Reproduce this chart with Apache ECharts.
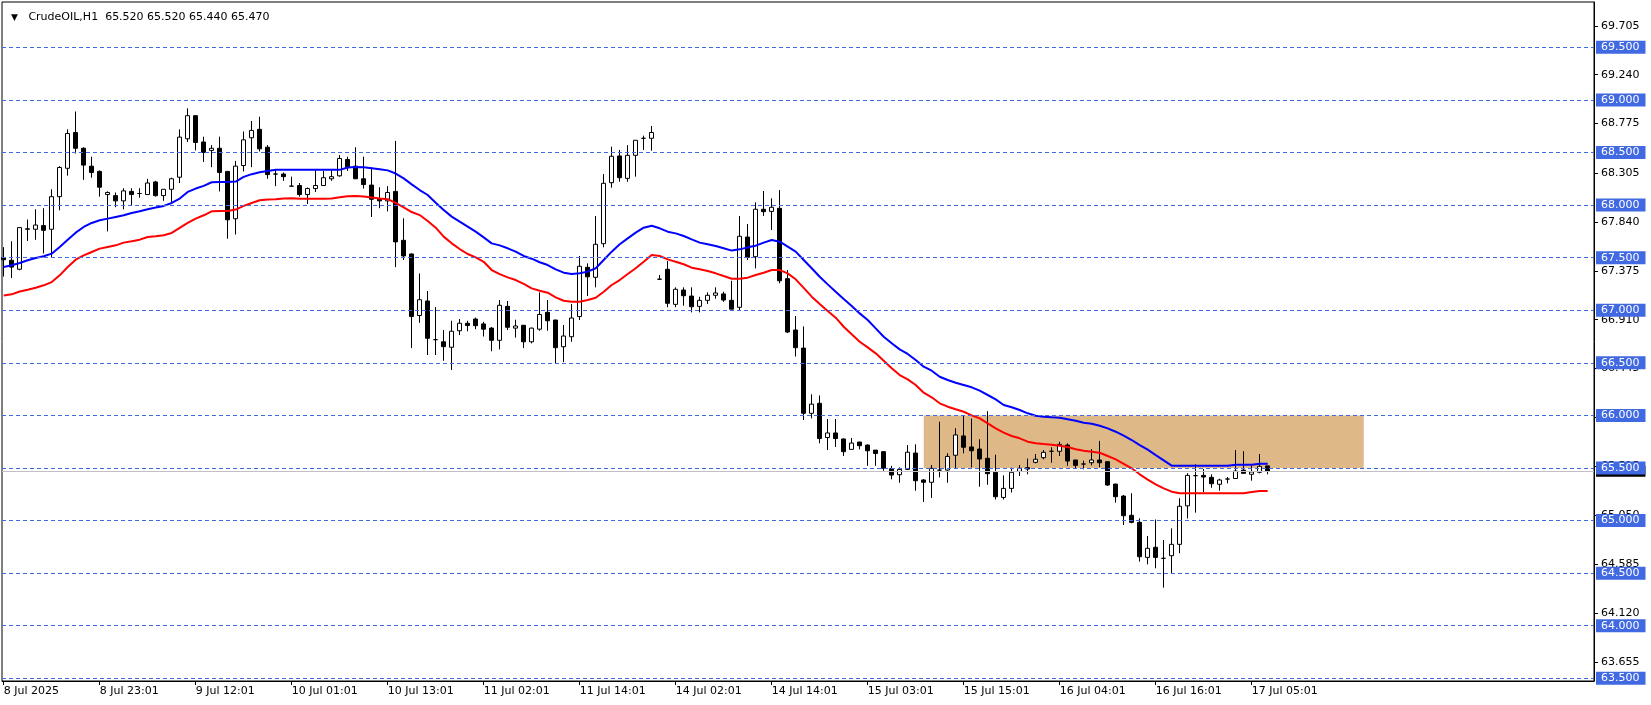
<!DOCTYPE html>
<html><head><meta charset="utf-8">
<script src="https://cdn.jsdelivr.net/npm/echarts@6/dist/echarts.min.js"></script>
<style>html,body{margin:0;padding:0;background:#fff}#c{width:1651px;height:705px}</style>
</head><body><div id="c"></div>
<script>
// ---- data (hourly bars, index 0 = first visible bar) ----
const openP = [67.50,67.475,67.39,67.77,67.77,67.805,67.77,68.08,68.35,68.69,
68.54,68.37,68.32,68.10,68.09,68.04,68.13,68.11,68.10,68.22,
68.09,68.15,68.265,68.63,68.85,68.60,68.52,68.54,68.32,67.87,
68.376,68.64,68.72,68.55,68.295,68.295,68.18,68.186,68.10,68.157,
68.186,68.25,68.278,68.433,68.37,68.25,68.19,68.055,68.04,68.13,
67.665,67.535,66.95,67.088,66.72,66.70,66.648,66.805,66.876,66.916,
66.87,66.83,66.714,67.037,66.83,66.857,66.70,66.82,66.98,66.907,
66.653,66.748,66.94,67.408,67.313,67.633,68.213,68.467,68.254,68.473,
68.635,68.635,67.295,67.389,67.056,67.192,67.135,67.037,67.094,67.142,
67.155,67.094,67.028,67.696,67.509,67.96,67.94,67.969,67.30,66.812,
66.64,66.02,66.115,65.79,65.833,65.776,65.677,65.747,65.718,65.67,
65.655,65.493,65.436,65.487,65.642,65.386,65.364,65.48,65.48,65.621,
65.805,65.70,65.68,65.592,65.459,65.22,65.306,65.468,65.503,65.554,
65.598,65.659,65.659,65.718,65.576,65.538,65.55,65.576,65.56,65.347,
65.233,65.05,64.983,64.65,64.746,64.641,64.666,64.774,65.14,65.427,
65.43,65.411,65.345,65.395,65.40,65.48,65.44,65.459,65.52];
const highP = [67.60,67.656,67.79,67.862,67.96,67.97,68.15,68.37,68.72,68.89,
68.55,68.46,68.33,68.13,68.12,68.16,68.16,68.16,68.25,68.23,
68.15,68.26,68.72,68.92,68.85,68.65,68.57,68.65,68.32,68.42,
68.70,68.80,68.84,68.57,68.34,68.31,68.27,68.21,68.167,68.33,
68.325,68.33,68.475,68.46,68.55,68.46,68.36,68.17,68.18,68.61,
67.874,67.54,67.35,67.183,67.03,66.812,66.90,66.916,66.90,66.93,
66.89,66.84,67.097,67.088,66.91,66.86,66.835,67.17,67.097,66.91,
66.86,67.06,67.516,67.446,67.896,68.295,68.555,68.524,68.57,68.616,
68.66,68.752,67.335,67.468,67.218,67.218,67.218,67.128,67.17,67.218,
67.176,67.28,67.896,67.82,68.026,68.134,68.064,68.143,67.382,66.945,
66.846,66.20,66.19,65.966,65.966,65.78,65.785,65.747,65.724,65.67,
65.66,65.52,65.506,65.718,65.725,65.395,65.528,65.94,65.64,65.878,
66.0,65.97,65.773,66.04,65.626,65.43,65.503,65.528,65.59,65.633,
65.67,65.697,65.75,65.734,65.576,65.57,65.68,65.757,65.56,65.35,
65.243,65.26,65.021,64.853,65.01,64.815,64.926,65.212,65.45,65.535,
65.49,65.44,65.398,65.414,65.67,65.66,65.52,65.633,65.52];
const lowP = [67.32,67.306,67.38,67.659,67.67,67.54,67.50,67.95,68.28,68.49,
68.24,68.26,68.08,67.75,67.98,67.96,68.0,68.07,68.10,68.08,
68.04,68.03,68.21,68.60,68.52,68.41,68.36,68.13,67.68,67.72,
68.32,68.36,68.51,68.25,68.18,68.23,68.18,68.08,68.01,68.125,
68.186,68.23,68.27,68.325,68.25,68.157,67.887,67.97,67.94,67.41,
67.478,66.64,66.88,66.574,66.574,66.52,66.432,66.764,66.80,66.82,
66.75,66.61,66.627,66.812,66.74,66.64,66.685,66.805,66.805,66.49,
66.507,66.70,66.907,67.135,67.218,67.598,68.165,68.222,68.222,68.27,
68.524,68.517,67.295,67.028,67.028,67.043,66.98,66.98,67.06,67.11,
67.08,67.01,66.995,67.478,67.398,67.896,67.763,67.256,66.783,66.56,
65.956,65.972,65.735,65.671,65.70,65.614,65.677,65.677,65.52,65.52,
65.474,65.392,65.36,65.48,65.284,65.177,65.215,65.41,65.36,65.497,
65.64,65.506,65.322,65.34,65.20,65.20,65.267,65.424,65.44,65.544,
65.583,65.55,65.614,65.52,65.493,65.487,65.525,65.506,65.33,65.17,
64.958,64.974,64.61,64.584,64.546,64.362,64.498,64.69,65.02,65.075,
65.27,65.312,65.284,65.354,65.40,65.449,65.379,65.449,65.44];
const closeP = [67.48,67.41,67.786,67.775,67.81,67.76,68.08,68.357,68.68,68.54,
68.38,68.31,68.17,68.12,68.04,68.135,68.10,68.11,68.21,68.09,
68.15,68.25,68.646,68.85,68.595,68.50,68.54,68.31,67.86,68.37,
68.62,68.71,68.535,68.29,68.295,68.27,68.18,68.10,68.157,68.186,
68.26,68.27,68.443,68.363,68.25,68.195,68.055,68.04,68.12,67.65,
67.516,66.94,67.10,66.733,66.72,66.654,66.80,66.876,66.855,66.853,
66.82,66.714,67.047,66.838,66.85,66.70,66.83,66.96,66.90,66.644,
66.755,66.926,67.418,67.318,67.627,68.207,68.464,68.26,68.473,68.616,
68.635,68.69,67.295,67.066,67.199,67.138,67.033,67.094,67.142,67.164,
67.097,67.01,67.703,67.503,67.96,67.937,67.979,67.28,66.793,66.644,
66.02,66.107,65.78,65.833,65.78,65.655,65.737,65.712,65.664,65.638,
65.497,65.433,65.487,65.65,65.379,65.364,65.497,65.48,65.61,65.814,
65.697,65.664,65.586,65.446,65.227,65.306,65.459,65.497,65.49,65.583,
65.649,65.659,65.725,65.566,65.525,65.538,65.576,65.55,65.338,65.227,
65.046,64.983,64.656,64.736,64.65,64.641,64.774,65.136,65.43,65.427,
65.414,65.35,65.386,65.395,65.471,65.449,65.462,65.516,65.47];
const blueMA = [67.411,67.427,67.449,67.475,67.497,67.513,67.538,67.602,67.671,67.738,
67.792,67.83,67.856,67.871,67.887,67.903,67.925,67.941,67.96,67.976,
67.992,68.02,68.062,68.125,68.157,68.183,68.217,68.22,68.22,68.224,
68.268,68.294,68.313,68.325,68.335,68.335,68.335,68.335,68.335,68.335,
68.335,68.335,68.335,68.357,68.363,68.36,68.35,68.34,68.33,68.30,
68.254,68.197,68.143,68.096,68.023,67.953,67.89,67.842,67.795,67.747,
67.693,67.636,67.617,67.589,67.557,67.516,67.49,67.456,67.43,67.389,
67.357,67.345,67.351,67.367,67.399,67.478,67.557,67.627,67.683,67.738,
67.785,67.804,67.779,67.747,67.731,67.706,67.674,67.643,67.627,67.611,
67.589,67.567,67.579,67.598,67.614,67.643,67.668,67.652,67.605,67.557,
67.478,67.399,67.319,67.246,67.176,67.107,67.04,66.97,66.907,66.828,
66.748,66.686,66.628,66.584,66.527,66.463,66.425,66.368,66.337,66.311,
66.289,66.267,66.235,66.194,66.153,66.099,66.077,66.051,66.02,65.997,
65.988,65.982,65.978,65.963,65.95,65.93,65.921,65.902,65.877,65.845,
65.807,65.766,65.718,65.674,65.623,65.573,65.522,65.522,65.522,65.522,
65.522,65.522,65.522,65.522,65.531,65.531,65.531,65.541,65.541];
const redMA = [67.141,67.151,67.178,67.195,67.214,67.237,67.268,67.332,67.411,67.481,
67.522,67.554,67.586,67.602,67.617,67.643,67.656,67.671,67.697,67.703,
67.713,67.735,67.783,67.83,67.871,67.903,67.941,67.944,67.944,67.957,
67.992,68.02,68.046,68.052,68.056,68.062,68.065,68.059,68.059,68.059,
68.059,68.062,68.075,68.084,68.087,68.081,68.071,68.062,68.056,68.02,
67.979,67.934,67.905,67.848,67.785,67.70,67.636,67.582,67.535,67.503,
67.461,67.382,67.344,67.313,67.287,67.25,67.208,67.186,67.167,67.123,
67.09,67.081,67.081,67.097,67.119,67.176,67.24,67.287,67.344,67.399,
67.461,67.525,67.516,67.484,67.461,67.437,67.405,67.389,67.373,67.351,
67.325,67.30,67.30,67.31,67.335,67.357,67.382,67.382,67.351,67.294,
67.213,67.129,67.059,66.993,66.929,66.843,66.771,66.70,66.647,66.59,
66.52,66.448,66.384,66.343,66.289,66.216,66.172,66.115,66.083,66.058,
66.035,66.0,65.972,65.925,65.877,65.836,65.804,65.782,65.75,65.735,
65.728,65.722,65.712,65.70,65.678,65.664,65.655,65.645,65.614,65.582,
65.54,65.497,65.44,65.39,65.345,65.306,65.275,65.259,65.259,65.259,
65.259,65.259,65.259,65.259,65.259,65.259,65.272,65.281,65.281];
const timeLabelIndex = [0,12,24,36,48,60,72,84,96,108,120,132,144,156];
const timeLabels = ['8 Jul 2025','8 Jul 23:01','9 Jul 12:01','10 Jul 01:01','10 Jul 13:01','11 Jul 02:01','11 Jul 14:01','14 Jul 02:01','14 Jul 14:01','15 Jul 03:01','15 Jul 15:01','16 Jul 04:01','16 Jul 16:01','17 Jul 05:01'];
const priceTicks = [63.655,64.120,64.585,65.050,65.515,65.980,66.445,66.910,67.375,67.840,68.305,68.775,69.240,69.705];
const levelLines = [69.5,69.0,68.5,68.0,67.5,67.0,66.5,66.0,65.5,65.0,64.5,64.0,63.5];
const bidPrice = 65.470;
const zoneStart = 115, zoneEnd = 170, zoneTop = 66.0, zoneBottom = 65.5;
const symbolName = 'CrudeOIL,H1';
const lastBar = [65.520, 65.520, 65.440, 65.470];

// ---- chart ----
const FONT = 'DejaVu Sans';
const candles = openP.map((o, i) => [i, o, closeP[i], lowP[i], highP[i]]);
const chart = echarts.init(document.getElementById('c'), null, {renderer: 'canvas'});
const option = {
  animation: false,
  backgroundColor: '#ffffff',
  textStyle: {fontFamily: FONT},
  title: {
    text: '{t|▼}   ' + symbolName + '  ' + lastBar.map(v => v.toFixed(3)).join(' '),
    left: 6, top: 6,
    textStyle: {fontFamily: FONT, fontSize: 11, fontWeight: 'normal', color: '#000', lineHeight: 13,
      rich: {t: {fontSize: 9, color: '#000', fontFamily: FONT}}}
  },
  grid: {left: 2, top: 2, width: 1592, height: 679, show: true, borderColor: '#000', borderWidth: 1, backgroundColor: 'transparent'},
  xAxis: {
    type: 'value', min: -0.2125, max: 198.7875,
    axisLine: {show: true, onZero: false, lineStyle: {color: '#000', width: 1}},
    splitLine: {show: false},
    axisTick: {show: true, customValues: timeLabelIndex, length: 4, lineStyle: {color: '#000'}},
    axisLabel: {customValues: timeLabelIndex, align: 'left', margin: 5, fontFamily: FONT, fontSize: 11, color: '#000',
      formatter: v => timeLabels[timeLabelIndex.indexOf(Math.round(v))] || ''}
  },
  yAxis: {
    type: 'value', position: 'right', min: 63.4745, max: 69.931, scale: true,
    axisLine: {show: true, onZero: false, lineStyle: {color: '#000', width: 1}},
    splitLine: {show: false},
    axisTick: {show: true, customValues: priceTicks, length: 4, lineStyle: {color: '#000'}},
    axisLabel: {customValues: priceTicks, margin: 7, fontFamily: FONT, fontSize: 11, color: '#000',
      formatter: v => v.toFixed(3)}
  },
  series: [
    {
      type: 'line', data: [], z: 1, silent: true,
      markLine: {
        silent: true, symbol: 'none', animation: false,
        lineStyle: {color: '#c0c0c0', type: 'solid', width: 1},
        label: {show: true, position: 'end', distance: 2, formatter: p => p.value.toFixed(3),
          backgroundColor: '#000', color: '#fff', fontFamily: FONT, fontSize: 11, lineHeight: 11, padding: [0, 6, 0, 5]},
        data: [{yAxis: bidPrice}]
      }
    },
    {
      type: 'line', data: [], z: 1, silent: true,
      markLine: {
        silent: true, symbol: 'none', animation: false,
        lineStyle: {color: '#4169E1', type: [4, 3], width: 1},
        label: {show: true, position: 'end', distance: 2, formatter: p => p.value.toFixed(3),
          backgroundColor: '#4169E1', color: '#fff', fontFamily: FONT, fontSize: 11, lineHeight: 13, padding: [0, 6, 0, 5]},
        data: levelLines.map(v => ({yAxis: v}))
      }
    },
    {
      type: 'candlestick', data: candles, encode: {x: 0, y: [1, 2, 3, 4]},
      barWidth: 4, z: 3, silent: true,
      itemStyle: {color: '#ffffff', color0: '#000000', borderColor: '#000000', borderColor0: '#000000', borderColorDoji: '#000000', borderWidth: 1},
      markArea: {
        silent: true, itemStyle: {color: '#DEB887', opacity: 1},
        data: [[{xAxis: zoneStart, yAxis: zoneTop}, {xAxis: zoneEnd, yAxis: zoneBottom}]]
      }
    },
    {
      type: 'line', data: blueMA.map((v, i) => [i, v]), showSymbol: false, symbol: 'none', z: 4, silent: true,
      lineStyle: {color: '#0000ff', width: 2}
    },
    {
      type: 'line', data: redMA.map((v, i) => [i, v]), showSymbol: false, symbol: 'none', z: 4, silent: true,
      lineStyle: {color: '#ff0000', width: 2}
    }
  ]
};
chart.setOption(option);
</script>
</body></html>
